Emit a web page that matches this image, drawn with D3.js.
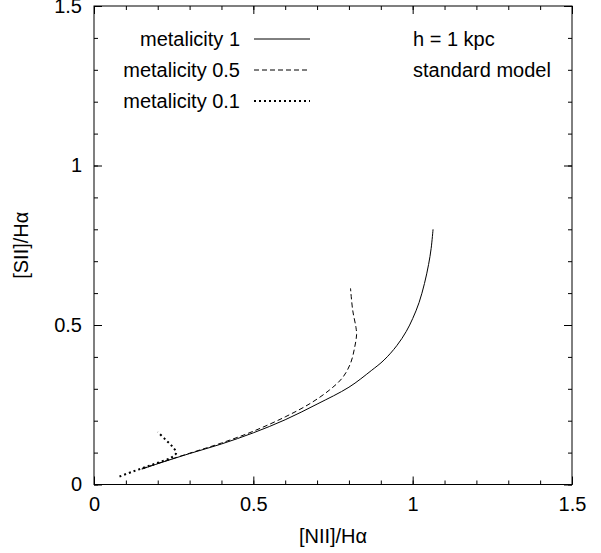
<!DOCTYPE html>
<html>
<head>
<meta charset="utf-8">
<script src="https://cdn.jsdelivr.net/npm/d3@7"></script>
<style>
  body { margin: 0; background: #fff; }
  text { font-family: "Liberation Sans", Arial, sans-serif; font-size: 20px; fill: #000; }
</style>
</head>
<body>
<div id="viz"></div>
<script>
// ticks
const xMajor = [0, 0.5, 1, 1.5];
const yMajor = [0, 0.5, 1, 1.5];
const minorTicks = d3.range(0, 16).map(i => i / 10);

// curves, [NII]/Ha vs [SII]/Ha
const metal1 = [
  [0.15, 0.048], [0.2, 0.065], [0.3, 0.097], [0.4, 0.127], [0.5, 0.162],
  [0.6, 0.203], [0.7, 0.252], [0.8, 0.305], [0.87, 0.357], [0.91, 0.39],
  [0.95, 0.435], [0.98, 0.48], [1.0, 0.52], [1.02, 0.57], [1.037, 0.63],
  [1.05, 0.69], [1.058, 0.74], [1.064, 0.80]
];
const metal05 = [
  [0.15, 0.05], [0.3, 0.098], [0.4, 0.13], [0.5, 0.167], [0.6, 0.212],
  [0.68, 0.255], [0.74, 0.297], [0.78, 0.335], [0.805, 0.38], [0.818, 0.43],
  [0.824, 0.47], [0.822, 0.493], [0.812, 0.545], [0.805, 0.615]
];
const metal01 = [
  [0.08, 0.025], [0.12, 0.04], [0.16, 0.054], [0.2, 0.068], [0.24, 0.083],
  [0.258, 0.099], [0.245, 0.12], [0.225, 0.14], [0.2, 0.165]
];

const series = [
  { label: 'metalicity 1', data: metal1, dash: null, w: 1 },
  { label: 'metalicity 0.5', data: metal05, dash: '5,3', w: 1 },
  { label: 'metalicity 0.1', data: metal01, dash: '2,3', w: 2 },
];
const notes = ['h = 1 kpc', 'standard model'];

const width = 601, height = 553;
const margin = { top: 6, right: 29, bottom: 68.5, left: 94 };

const svg = d3.select('#viz').append('svg')
  .attr('width', width)
  .attr('height', height);

const x = d3.scaleLinear().domain([0, 1.5]).range([margin.left, width - margin.right]);
const y = d3.scaleLinear().domain([0, 1.5]).range([height - margin.bottom, margin.top]);

// inward ticks on all four sides
const tickAxis = (axisFn, scale, values, size, tx, ty, labels) => {
  const ax = axisFn(scale).tickValues(values).tickSizeInner(-size).tickSizeOuter(0)
    .tickPadding(12)
    .tickFormat(labels ? (d => d) : '');
  const g = svg.append('g').attr('transform', `translate(${tx},${ty})`).call(ax);
  g.select('.domain').remove();
  g.selectAll('line').attr('stroke', '#000').attr('stroke-width', 1);
  g.attr('font-size', null).attr('font-family', null);
  g.selectAll('text').attr('font-size', 20);
  return g;
};

tickAxis(d3.axisBottom, x, minorTicks, 4, 0, y(0), false);
tickAxis(d3.axisBottom, x, xMajor, 8, 0, y(0), true);
tickAxis(d3.axisTop, x, minorTicks, 4, 0, y(1.5), false);
tickAxis(d3.axisTop, x, xMajor, 8, 0, y(1.5), false);
tickAxis(d3.axisLeft, y, minorTicks, 4, x(0), 0, false);
tickAxis(d3.axisLeft, y, yMajor, 8, x(0), 0, true);
tickAxis(d3.axisRight, y, minorTicks, 4, x(1.5), 0, false);
tickAxis(d3.axisRight, y, yMajor, 8, x(1.5), 0, false);

// frame
svg.append('rect')
  .attr('x', x(0)).attr('y', y(1.5))
  .attr('width', x(1.5) - x(0)).attr('height', y(0) - y(1.5))
  .attr('fill', 'none').attr('stroke', '#000').attr('stroke-width', 1);

// curves
const line = d3.line().x(d => x(d[0])).y(d => y(d[1])).curve(d3.curveCatmullRom);
svg.selectAll('.curve').data(series).join('path')
  .attr('class', 'curve')
  .attr('d', d => line(d.data))
  .attr('fill', 'none')
  .attr('stroke', '#000')
  .attr('stroke-width', d => d.w)
  .attr('stroke-dasharray', d => d.dash);

// legend
const leg = svg.append('g');
series.forEach((s, i) => {
  const by = 46 + i * 31;
  leg.append('text').attr('x', 240).attr('y', by).attr('text-anchor', 'end').text(s.label);
  leg.append('line')
    .attr('x1', 254).attr('x2', 310).attr('y1', by - 7).attr('y2', by - 7)
    .attr('stroke', '#000').attr('stroke-width', s.w)
    .attr('stroke-dasharray', s.dash);
});

notes.forEach((t, i) => {
  svg.append('text').attr('x', 413).attr('y', 46 + i * 31).text(t);
});

// axis titles
svg.append('text')
  .attr('x', (x(0) + x(1.5)) / 2).attr('y', 543)
  .attr('text-anchor', 'middle')
  .text('[NII]/Hα');

svg.append('text')
  .attr('transform', `translate(28,${(y(0) + y(1.5)) / 2}) rotate(-90)`)
  .attr('text-anchor', 'middle')
  .text('[SII]/Hα');
</script>
</body>
</html>
